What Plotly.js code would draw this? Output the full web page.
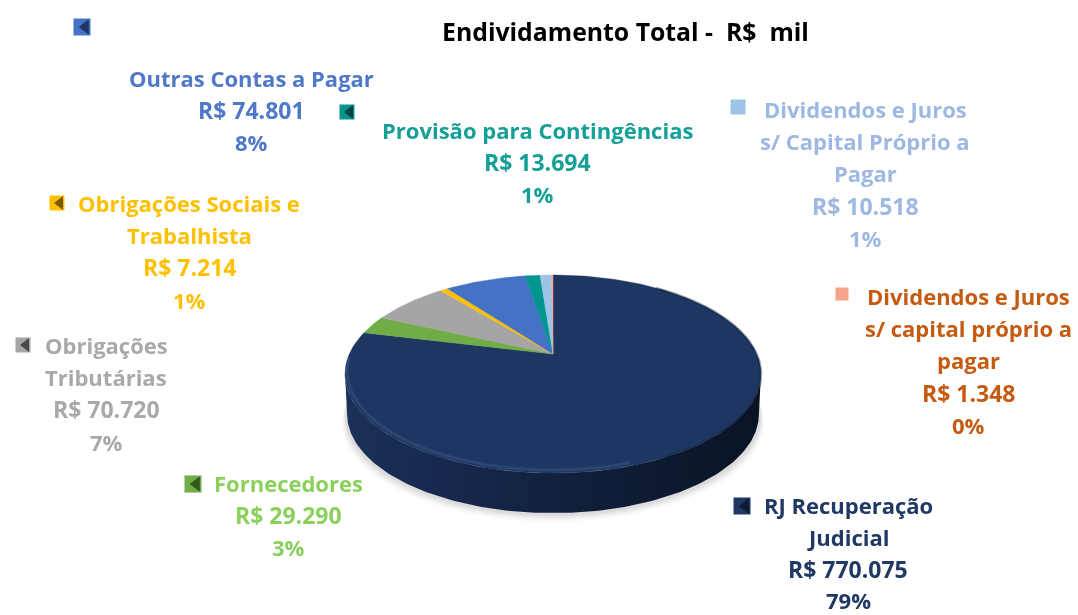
<!DOCTYPE html>
<html>
<head>
<meta charset="utf-8">
<script src="https://cdn.plot.ly/plotly-3.0.1.min.js"></script>
<style>html,body{margin:0;padding:0;background:#fff}#c{width:1078px;height:615px;filter:blur(0.45px)}</style>
</head>
<body>
<div id="c"></div>
<script>
// ---- data (clockwise from 12 o'clock) ----
const categories = ["RJ Recuperação Judicial","Fornecedores","Obrigações Tributárias","Obrigações Sociais e Trabalhista","Outras Contas a Pagar","Provisão para Contingências","Dividendos e Juros s/ Capital Próprio a Pagar","Dividendos e Juros s/ capital próprio a pagar"];
const values = [770075,29290,70720,7214,74801,13694,10518,1348];
const sliceColors = ["#1e3762","#70ad47","#a5a5a5","#ffc000","#4472c4","#00968f","#9dc3e6","#f4a58a"];
const textColors = ["#1f3864","#8cd05c","#a9a9a9","#ffc000","#4f78c8","#14a096","#9db8e2","#c55a11"];
const nameLines = [["RJ Recuperação","Judicial"],["Fornecedores"],["Obrigações","Tributárias"],["Obrigações Sociais e","Trabalhista"],["Outras Contas a Pagar"],["Provisão para Contingências"],["Dividendos e Juros","s/ Capital Próprio a","Pagar"],["Dividendos e Juros","s/ capital próprio a","pagar"]];
const chartTitle = "Endividamento Total -\u00a0\u00a0R$\u00a0\u00a0mil";

// ---- label placement (page pixels) ----
const labelX = [848,288,106,189,251,537,865,968];
const labelY = [505,483,345,203,78,130,109,296];
const lineStep = [31.8,32.2,32.2,32.2,32.2,32.2,32.2,32.2];
const keyX = [742,193,23,57,82,347,738,842];
const keyY = [506,484,345,203,27,112,107,294];
const keySize = [17,17,15,15,17,15,15,13];
const keyDark = ["#0f1c33","#2f5a1c","#4a4a4a","#7a5c00","#1d3567","#04413f",null,null];

// ---- tilted-disc projection ----
const apexX = 553, apexY = 354, a = 203.7, b = 95, k = 0.202, depth = 40;
function rim(theta, dy, scale){
  const u = Math.sin(theta), v = Math.cos(theta), w = 1 + k*v;
  return [apexX + (scale||1)*a*u/w, apexY - b*v/w + (dy||0)];
}
function arc(t0, t1, dy, scale){
  const n = Math.max(2, Math.ceil(Math.abs(t1-t0)/0.02)), xs=[], ys=[];
  for(let i=0;i<=n;i++){ const p = rim(t0+(t1-t0)*i/n, dy, scale); xs.push(p[0]); ys.push(p[1]); }
  return [xs,ys];
}
const total = values.reduce((s,v)=>s+v,0);
const TAU = Math.PI*2;
const traces = [];
const base = {type:"scatter",hoverinfo:"skip",showlegend:false,xaxis:"x",yaxis:"y"};

// soft shadow beneath the disc
[[49,1.015,0.02],[47,1.01,0.03],[45,1.005,0.04],[43,1.0,0.05]].forEach(s=>{
  const [xs,ys] = arc(0,TAU,s[0],s[1]);
  traces.push({...base,x:xs,y:ys,mode:"lines",line:{width:0},fill:"toself",fillcolor:`rgba(0,0,0,${s[2]})`});
});

// side wall, lower half of the rim
const t0 = Math.acos(-k), t1 = TAU - t0;
const up = arc(t0,t1,0,1), low = arc(t1,t0,depth,0.99);
traces.push({...base,x:up[0].concat(low[0]),y:up[1].concat(low[1]),mode:"lines",line:{width:0},fill:"toself",
  fillgradient:{type:"horizontal",colorscale:[[0,"#1b3158"],[0.3,"#15264a"],[0.6,"#111e38"],[1,"#0a1324"]]}});

// top-face slices
let cum = 0;
values.forEach((v,i)=>{
  const s = cum/total*TAU; cum += v; const e = cum/total*TAU;
  const [xs,ys] = arc(s,e,0,1);
  traces.push({...base,name:categories[i],x:[apexX].concat(xs,[apexX]),y:[apexY].concat(ys,[apexY]),mode:"lines",
    line:{width:0.4,color:sliceColors[i]},fill:"toself",fillcolor:sliceColors[i]});
});

// bevel on the rim
const bev = arc(Math.PI*0.9,Math.PI*1.48,-3,0.99);
traces.push({...base,x:bev[0],y:bev[1],mode:"lines",line:{width:3,color:"rgba(70,100,150,0.35)"}});
const edge = arc(Math.PI*0.2,Math.PI*0.85,0,1);
traces.push({...base,x:edge[0],y:edge[1],mode:"lines",line:{width:2.5,color:"rgba(10,20,40,0.35)"}});

// legend keys
categories.forEach((c,i)=>{
  traces.push({...base,x:[keyX[i]],y:[keyY[i]],mode:"markers",marker:{symbol:"square",size:keySize[i],color:sliceColors[i],line:{width:0}}});
  if(keyDark[i]) traces.push({...base,x:[keyX[i]+keySize[i]*0.2],y:[keyY[i]],mode:"markers",
    marker:{symbol:"triangle-left",size:keySize[i]*0.8,color:keyDark[i],line:{width:0}}});
});

// labels: one annotation per line
const fmt = v => "R$ " + String(v).replace(/\B(?=(\d{3})+$)/g,".");
const annotations = [];
const addText = (x,y,text,color,size) => annotations.push({xref:"x",yref:"y",x,y,text,showarrow:false,xanchor:"center",yanchor:"middle",
  font:{family:"Open Sans, sans-serif",size,weight:700,color}});
categories.forEach((c,i)=>{
  const names = nameLines[i];
  names.forEach((t,j)=>addText(labelX[i],labelY[i]+j*lineStep[i],t,textColors[i],22));
  const n = names.length;
  addText(labelX[i],labelY[i]+n*lineStep[i],fmt(values[i]),textColors[i],23);
  addText(labelX[i],labelY[i]+(n+1)*lineStep[i],Math.round(values[i]/total*100)+"%",textColors[i],22);
});
addText(625,31,chartTitle,"#000000",24.8);

Plotly.newPlot("c",traces,{
  width:1078,height:615,margin:{l:0,r:0,t:0,b:0},paper_bgcolor:"#fff",plot_bgcolor:"#fff",showlegend:false,
  xaxis:{range:[0,1078],visible:false,fixedrange:true},
  yaxis:{range:[615,0],visible:false,fixedrange:true},
  annotations
},{displayModeBar:false,staticPlot:true});
</script>
</body>
</html>
